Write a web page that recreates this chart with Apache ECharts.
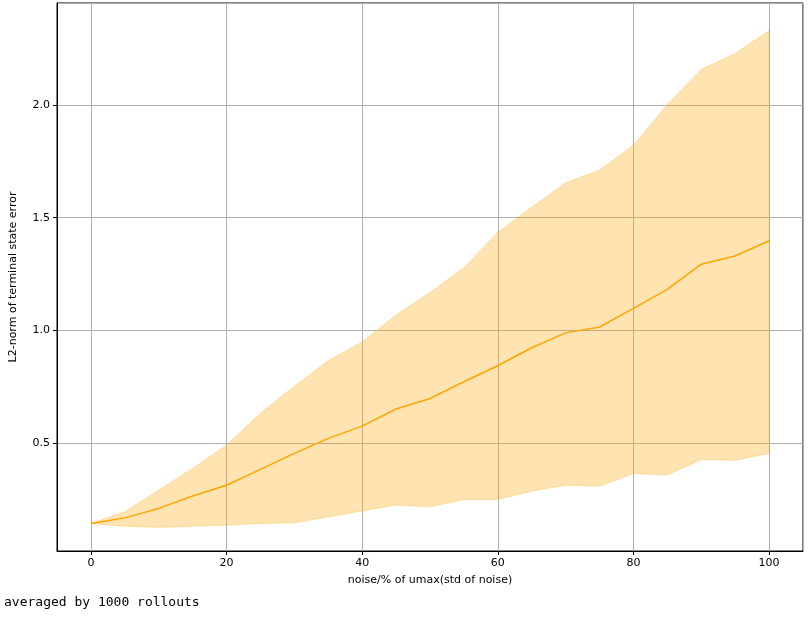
<!DOCTYPE html>
<html>
<head>
<meta charset="utf-8">
<script src="https://cdn.jsdelivr.net/npm/echarts@6/dist/echarts.min.js"></script>
<style>
  html, body { margin: 0; padding: 0; background: #fff; }
  #chart { width: 809px; height: 617px; }
</style>
</head>
<body>
<div id="chart"></div>
<script>
// noise level, % of umax
const noise = [0, 5, 10, 15, 20, 25, 30, 35, 40, 45, 50, 55, 60, 65, 70, 75, 80, 85, 90, 95, 100]
// mean L2-norm of terminal state error
const meanErr = [0.143, 0.168, 0.210, 0.265, 0.313, 0.383, 0.454, 0.521, 0.575, 0.651, 0.698,
  0.772, 0.843, 0.923, 0.989, 1.015, 1.098, 1.182, 1.294, 1.330, 1.398]
// band bounds
const upperErr = [0.143, 0.195, 0.291, 0.387, 0.491, 0.632, 0.752, 0.865, 0.949, 1.068, 1.168,
  1.278, 1.435, 1.546, 1.655, 1.711, 1.822, 2.003, 2.158, 2.229, 2.330]
const lowerErr = [0.143, 0.131, 0.126, 0.131, 0.136, 0.143, 0.146, 0.173, 0.199, 0.225, 0.217,
  0.250, 0.250, 0.287, 0.313, 0.309, 0.365, 0.358, 0.427, 0.424, 0.454]

const chart = echarts.init(document.getElementById('chart'))

const pairs = arr => noise.map((x, i) => [x, arr[i]])
const bandData = noise.map((x, i) => [x, lowerErr[i], upperErr[i]])

const labelFont = { color: '#000', fontSize: 11, fontFamily: 'DejaVu Sans' }

// draw the whole band as one polygon (upper edge forward, lower edge back)
function renderBand(params, api) {
  if (params.dataIndex !== 0) return
  const top = bandData.map(d => api.coord([d[0], d[2]]))
  const bottom = bandData.map(d => api.coord([d[0], d[1]])).reverse()
  return {
    type: 'polygon',
    shape: { points: top.concat(bottom) },
    style: { fill: 'rgba(255,165,0,0.3)', stroke: 'rgba(255,165,0,0.3)', lineWidth: 1 }
  }
}

chart.setOption({
  animation: false,
  grid: {
    left: 55, right: 6, top: 3, bottom: 66,
    show: true, borderColor: '#000', borderWidth: 1, backgroundColor: 'transparent'
  },
  xAxis: {
    type: 'value',
    min: -5,
    max: 105,
    splitNumber: 5,
    name: 'noise/% of umax(std of noise)',
    nameLocation: 'middle',
    nameGap: 24,
    nameTextStyle: labelFont,
    axisLine: { onZero: false, lineStyle: { color: '#000' } },
    axisTick: { length: 4, lineStyle: { color: '#000' } },
    axisLabel: { ...labelFont, margin: 7, showMinLabel: false, showMaxLabel: false },
    splitLine: { show: true, lineStyle: { color: '#b0b0b0', width: 1 } }
  },
  yAxis: {
    type: 'value',
    min: 0.021,
    max: 2.453,
    splitNumber: 5,
    name: 'L2-norm of terminal state error',
    nameLocation: 'middle',
    nameGap: 38,
    nameTextStyle: labelFont,
    axisLine: { show: true, onZero: false, lineStyle: { color: '#000' } },
    axisTick: { show: true, length: 4, lineStyle: { color: '#000' } },
    axisLabel: {
      ...labelFont, margin: 7, showMinLabel: false, showMaxLabel: false,
      formatter: v => v.toFixed(1)
    },
    splitLine: { show: true, lineStyle: { color: '#b0b0b0', width: 1 } }
  },
  graphic: [{
    type: 'text',
    left: 4,
    top: 596,
    style: { text: 'averaged by 1000 rollouts', fill: '#000', fontSize: 13, fontFamily: 'DejaVu Sans Mono' }
  }],
  series: [
    {
      type: 'custom',
      data: bandData,
      renderItem: renderBand,
      clip: true,
      z: 1
    },
    {
      type: 'line',
      data: pairs(meanErr),
      symbol: 'none',
      lineStyle: { color: '#ffa500', width: 1.5 },
      z: 3
    }
  ]
})
</script>
</body>
</html>
